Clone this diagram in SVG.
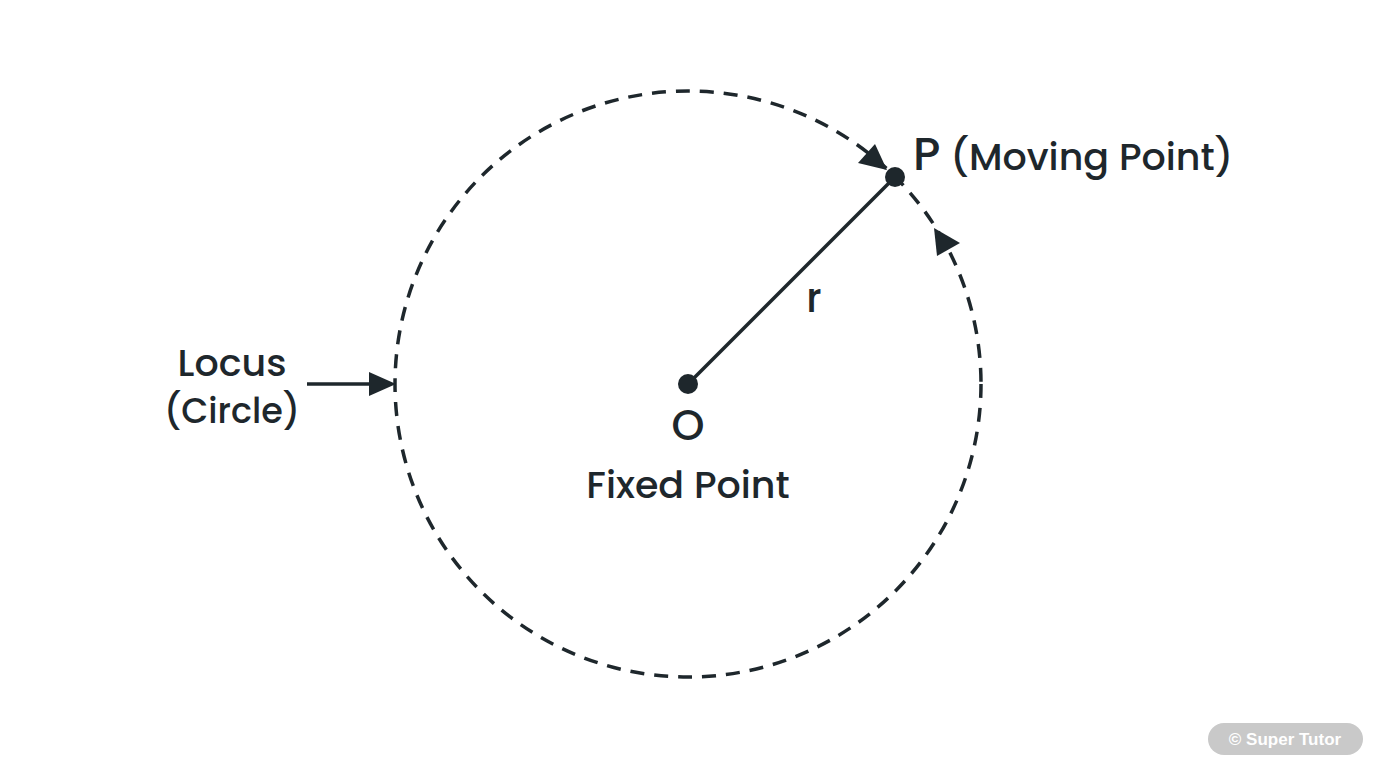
<svg xmlns="http://www.w3.org/2000/svg" width="1376" height="768" viewBox="0 0 1376 768">
<style>
.t{font-family:"Poppins","Inter","Liberation Sans",sans-serif;fill:#1e272c;font-weight:500}
.ln{stroke:#1e272c;stroke-width:3.5;fill:none}
</style>
<rect width="1376" height="768" fill="#fff"/>
<g id="connectors">
<circle cx="688" cy="384" r="293" class="ln" stroke-dasharray="14 10"/>
<line x1="688" y1="384" x2="895" y2="177" class="ln"/>
<line x1="307" y1="384" x2="375" y2="384" class="ln"/>
<polygon points="396,384 369,372 369,396" fill="#1e272c"/>
<polygon points="887,170 858,163 875,144" fill="#1e272c"/>
<polygon points="934,228 960,243 937,256" fill="#1e272c"/>
</g>
<g id="center"><circle cx="688" cy="384" r="10" fill="#1e272c"/>
<text class="t" x="688" y="440" font-size="42" text-anchor="middle">O</text>
<text class="t" x="688" y="498" font-size="38" text-anchor="middle">Fixed Point</text></g>
<g id="point-p"><circle cx="895" cy="177" r="10" fill="#1e272c"/>
<text class="t" x="913" y="170" font-size="38"><tspan font-size="46">P</tspan> (Moving Point)</text></g>
<g id="radius"><text class="t" x="814" y="312" font-size="40" text-anchor="middle">r</text></g>
<g id="locus"><text class="t" x="232" y="376" font-size="38" text-anchor="middle">Locus</text>
<text class="t" x="232" y="423" font-size="35" text-anchor="middle">(Circle)</text></g>
<g id="watermark"><rect x="1208" y="723" width="155" height="32" rx="16" fill="#c9c9c9"/>
<text x="1285" y="745" font-size="17" font-weight="bold" text-anchor="middle" fill="#fff" font-family="Liberation Sans,sans-serif">© Super Tutor</text></g>
</svg>
